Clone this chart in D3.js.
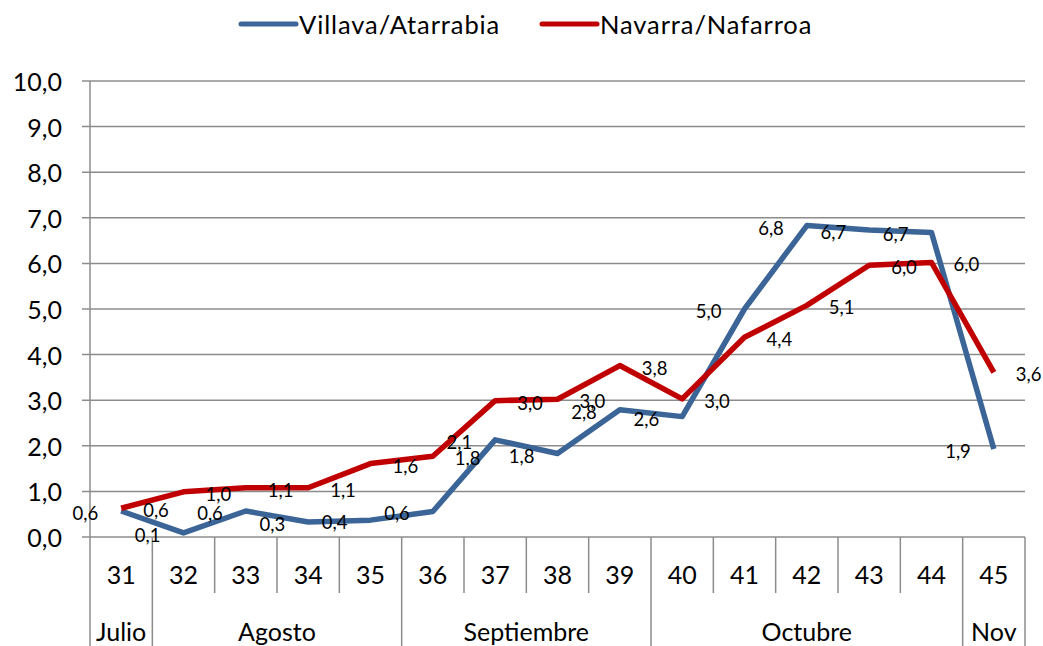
<!DOCTYPE html>
<html>
<head>
<meta charset="utf-8">
<script src="https://cdn.jsdelivr.net/npm/d3@7"></script>
<style>
  body { margin: 0; background: #fff; }
  text { font-family: Lato, "Open Sans", sans-serif; fill: #000; }
</style>
</head>
<body>
<script>
// weekly data
const weeks = ["31","32","33","34","35","36","37","38","39","40","41","42","43","44","45"];
const monthNames = ["Julio","Agosto","Septiembre","Octubre","Nov"];
const monthWeeks = [1, 4, 4, 5, 1];   // how many weeks fall under each month
const villava = [0.57, 0.09, 0.57, 0.33, 0.37, 0.56, 2.13, 1.83, 2.79, 2.64, 5.0, 6.83, 6.73, 6.68, 1.93];
const navarra = [0.63, 0.99, 1.08, 1.08, 1.61, 1.77, 2.99, 3.02, 3.76, 3.03, 4.38, 5.08, 5.96, 6.02, 3.61];
const yTicks = [0,1,2,3,4,5,6,7,8,9,10];
const seriesNames = ["Villava/Atarrabia", "Navarra/Nafarroa"];

const w = 1043, h = 646;
const padL = 90, padR = 1025, padT = 81, padB = 537;
const blue = "#3b6497", red = "#c00000", grid = "#8c8c8c";

const comma = v => d3.format(".1f")(v).replace(".", ",");

const svg = d3.select("body").append("svg")
  .attr("width", w).attr("height", h);

const x = d3.scaleBand().domain(weeks).range([padL, padR]);
const y = d3.scaleLinear().domain([0, 10]).range([padB, padT]);

// horizontal grid + y labels
svg.append("g").selectAll("line")
  .data(yTicks).enter().append("line")
  .attr("x1", padL - 8).attr("x2", padR)
  .attr("y1", d => y(d)).attr("y2", d => y(d))
  .style("stroke", grid).style("stroke-width", 1.5);

svg.append("g").selectAll("text")
  .data(yTicks).enter().append("text")
  .attr("x", 62).attr("y", d => y(d))
  .attr("text-anchor", "end").attr("dominant-baseline", "central")
  .style("font-size", "25px")
  .text(d => comma(d));

// category separators, longer at month boundaries
let bounds = [];
let acc = 0;
monthWeeks.forEach(n => { acc += n; bounds.push(acc); });
const edges = d3.range(weeks.length + 1);
svg.append("g").selectAll("line")
  .data(edges).enter().append("line")
  .attr("x1", i => padL + i * x.step()).attr("x2", i => padL + i * x.step())
  .attr("y1", i => i == 0 ? padT : padB)
  .attr("y2", i => (i == 0 || bounds.includes(i)) ? h : 593)
  .style("stroke", grid).style("stroke-width", 1.5);

svg.append("g").selectAll("text")
  .data(weeks).enter().append("text")
  .attr("x", d => x(d) + x.bandwidth() / 2).attr("y", 574)
  .attr("text-anchor", "middle").attr("dominant-baseline", "central")
  .style("font-size", "25px")
  .text(d => d);

let start = 0;
const months = monthNames.map((m, i) => {
  const o = { name: m, a: start, b: start + monthWeeks[i] };
  start += monthWeeks[i];
  return o;
});
svg.append("g").selectAll("text")
  .data(months).enter().append("text")
  .attr("x", d => padL + (d.a + d.b) / 2 * x.step()).attr("y", 631)
  .attr("text-anchor", "middle").attr("dominant-baseline", "central")
  .style("font-size", "25px")
  .text(d => d.name);

// lines
const line = d3.line()
  .x((d, i) => x(weeks[i]) + x.bandwidth() / 2)
  .y(d => y(d));

svg.append("path").datum(villava)
  .attr("d", line).attr("fill", "none")
  .style("stroke", blue).style("stroke-width", 5.5).style("stroke-linejoin", "round");
svg.append("path").datum(navarra)
  .attr("d", line).attr("fill", "none")
  .style("stroke", red).style("stroke-width", 5.5).style("stroke-linejoin", "round");

// data labels: blue ones sit left of the point, red ones right
svg.append("g").selectAll("text")
  .data(villava).enter().append("text")
  .attr("x", (d, i) => x(weeks[i]) + x.bandwidth() / 2 - 23)
  .attr("y", d => y(d) + 2)
  .attr("text-anchor", "end").attr("dominant-baseline", "central")
  .style("font-size", "18.5px")
  .text(d => comma(d));

svg.append("g").selectAll("text")
  .data(navarra).enter().append("text")
  .attr("x", (d, i) => x(weeks[i]) + x.bandwidth() / 2 + 22)
  .attr("y", d => y(d) + 2)
  .attr("text-anchor", "start").attr("dominant-baseline", "central")
  .style("font-size", "18.5px")
  .text(d => comma(d));

// legend
const legend = [
  { name: seriesNames[0], color: blue, x: 241 },
  { name: seriesNames[1], color: red, x: 542 }
];
const lg = svg.append("g").selectAll("g")
  .data(legend).enter().append("g");
lg.append("line")
  .attr("x1", d => d.x).attr("x2", d => d.x + 55)
  .attr("y1", 24).attr("y2", 24)
  .style("stroke", d => d.color).style("stroke-width", 5).style("stroke-linecap", "round");
lg.append("text")
  .attr("x", d => d.x + 58).attr("y", 24)
  .attr("dominant-baseline", "central")
  .style("font-size", "25.5px").style("letter-spacing", "0.9px")
  .text(d => d.name);
</script>
</body>
</html>
